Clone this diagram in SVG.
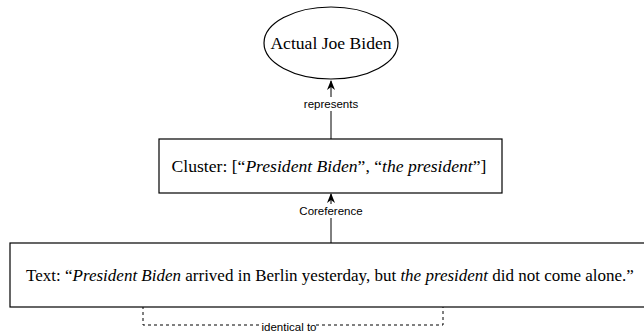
<svg xmlns="http://www.w3.org/2000/svg" width="644" height="332" viewBox="0 0 644 332">
<defs>
<style>
.node{fill:#fff;stroke:#000;stroke-width:1.2}
.serif{font-family:"Liberation Serif","Times New Roman",serif;font-size:17px;fill:#000}
.big{font-size:17.6px}
.lbl{font-family:"Liberation Sans",Arial,sans-serif;font-size:11.5px;fill:#000}
.edge{fill:none;stroke:#000;stroke-width:1}
.dash{fill:none;stroke:#000;stroke-width:1;stroke-dasharray:3 3}
</style>
<marker id="arr" viewBox="0 0 10 10" refX="9" refY="5" markerWidth="10" markerHeight="10" markerUnits="userSpaceOnUse" orient="auto">
<path d="M0,1 L10,5 L0,9 L3,5 Z" fill="#000"/>
</marker>
</defs>
<rect width="644" height="332" fill="#fff"/>
<g id="connectors">
<path class="edge" d="M331,139 L331,81" marker-end="url(#arr)"/>
<rect x="300" y="97" width="62" height="14" fill="#fff"/>
<text class="lbl" x="331" y="108" text-anchor="middle">represents</text>
<path class="edge" d="M331,243 L331,194" marker-end="url(#arr)"/>
<rect x="294" y="204" width="74" height="14" fill="#fff"/>
<text class="lbl" x="331" y="215" text-anchor="middle">Coreference</text>
<path class="dash" d="M443,287 L443,325 L143,325 L143,291" marker-end="url(#arr)"/>
<rect x="262" y="318" width="54" height="14" fill="#fff"/>
<text class="lbl" x="289" y="331" text-anchor="middle">identical to</text>
</g>
<g id="actual-joe-biden">
<ellipse class="node" cx="331" cy="43" rx="67" ry="36"/>
<text class="serif big" x="331" y="49" text-anchor="middle">Actual Joe Biden</text>
</g>
<g id="cluster">
<rect class="node" x="159" y="139" width="343" height="54"/>
<text class="serif big" x="329" y="172" text-anchor="middle">Cluster: [“<tspan font-style="italic">President Biden</tspan>”, “<tspan font-style="italic">the president</tspan>”]</text>
</g>
<g id="text">
<rect class="node" x="10" y="243" width="640" height="64"/>
<text class="serif" x="330" y="281" text-anchor="middle">Text: “<tspan font-style="italic">President Biden</tspan> arrived in Berlin yesterday, but <tspan font-style="italic">the president</tspan> did not come alone.”</text>
</g>
</svg>
